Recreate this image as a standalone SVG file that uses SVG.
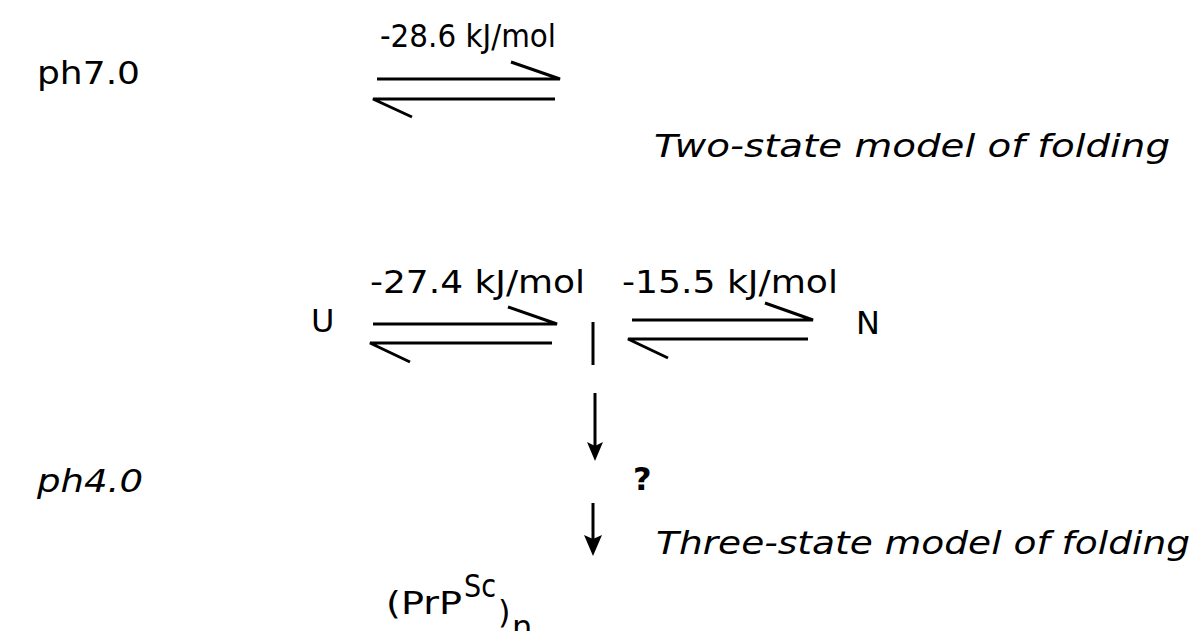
<svg xmlns="http://www.w3.org/2000/svg" width="1204" height="631" viewBox="0 0 1204 631">
<style>
.t{font-family:"DejaVu Sans","Liberation Sans",sans-serif;font-size:32px;fill:#000}
.i{font-style:italic}
.ln{stroke:#000;stroke-width:3;fill:none;stroke-linecap:butt}
</style>
<rect width="1204" height="631" fill="#fff"/>
<g id="label-ph7">
<text class="t" x="37" y="84" font-size="30" textLength="103" lengthAdjust="spacingAndGlyphs">ph7.0</text>
</g>
<g id="label-two-state">
<text class="t i" x="654" y="157" font-size="31" textLength="516" lengthAdjust="spacingAndGlyphs">Two-state model of folding</text>
</g>
<g id="label-ph4">
<text class="t i" x="37" y="492" font-size="30" textLength="106" lengthAdjust="spacingAndGlyphs">ph4.0</text>
</g>
<g id="label-three-state">
<text class="t i" x="656" y="554" font-size="31" textLength="534" lengthAdjust="spacingAndGlyphs">Three-state model of folding</text>
</g>
<g id="node-U">
<text class="t" x="311" y="332" font-size="32">U</text>
</g>
<g id="node-I">
<line class="ln" x1="593" y1="322" x2="593" y2="365"/>
</g>
<g id="node-N">
<text class="t" x="856" y="334" font-size="32">N</text>
</g>
<g id="node-PrPSc">
<text class="t" x="386" y="614" font-size="28" textLength="76" lengthAdjust="spacingAndGlyphs">(PrP</text>
<text class="t" x="464" y="597" font-size="25" textLength="32" lengthAdjust="spacingAndGlyphs">Sc</text>
<text class="t" x="498" y="623" font-size="28">)</text>
<text class="t" x="512" y="638" font-size="27">n</text>
</g>
<g id="connectors">
<g id="eq-top">
<path class="ln" d="M377 79 H560 L511 62"/>
<path class="ln" d="M555 99 H373 L412 117"/>
<text class="t" x="380" y="47" font-size="28" textLength="176" lengthAdjust="spacingAndGlyphs">-28.6 kJ/mol</text>
</g>
<g id="eq-U-I">
<path class="ln" d="M373 324 H557 L508 307"/>
<path class="ln" d="M552 343 H370 L410 362"/>
<text class="t" x="370" y="293" textLength="215" lengthAdjust="spacingAndGlyphs">-27.4 kJ/mol</text>
</g>
<g id="eq-I-N">
<path class="ln" d="M632 320 H813 L765 303"/>
<path class="ln" d="M808 339 H628 L668 358"/>
<text class="t" x="622" y="293" textLength="216" lengthAdjust="spacingAndGlyphs">-15.5 kJ/mol</text>
</g>
<g id="arrow-I-down1">
<line class="ln" x1="595" y1="393" x2="595" y2="446"/>
<polygon points="587,442 595,446 603,442 595,461" fill="#000"/>
</g>
<text class="t" x="633" y="490" font-size="30" font-weight="bold">?</text>
<g id="arrow-down2">
<line class="ln" x1="593" y1="503" x2="593" y2="540"/>
<polygon points="584,535 593,539 602,535 593,556" fill="#000"/>
</g>
</g>
</svg>
